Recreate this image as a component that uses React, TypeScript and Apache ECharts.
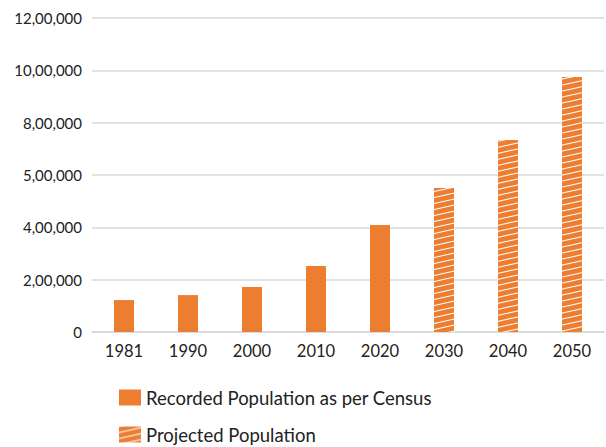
import React, { useEffect, useRef } from "react";
import * as echarts from "echarts";

const years = ["1981", "1990", "2000", "2010", "2020", "2030", "2040", "2050"];
const recorded = [122000, 141000, 172000, 252000, 409000, null, null, null];
const projected = [null, null, null, null, null, 550000, 734000, 975000];
const yTickLabels = ["0", "2,00,000", "4,00,000", "5,00,000", "8,00,000", "10,00,000", "12,00,000"];
const legendNames = ["Recorded Population as per Census", "Projected Population"];

const ORANGE = "#ED7D31";
const FONT = "Lato";

const TILE_W = 27;
const TILE_H = 6;
const tileSvg =
  `<svg xmlns="http://www.w3.org/2000/svg" width="${TILE_W}" height="${TILE_H}">` +
  `<rect width="${TILE_W}" height="${TILE_H}" fill="${ORANGE}"/>` +
  [-TILE_H, 0, TILE_H]
    .map(
      (y0) =>
        `<line x1="0" y1="${y0 + TILE_H}" x2="${TILE_W}" y2="${y0}" stroke="#ffffff" stroke-width="1.1"/>`
    )
    .join("") +
  `</svg>`;
const tileUrl = "data:image/svg+xml;charset=utf-8," + encodeURIComponent(tileSvg);

export default function App() {
  const ref = useRef<HTMLDivElement>(null);
  useEffect(() => {
    if (!ref.current) return;
    const chart = echarts.init(ref.current, undefined, { renderer: "svg" });
    const hatch = { image: tileUrl, repeat: "repeat", imageWidth: TILE_W, imageHeight: TILE_H };
    const legendBase = {
      orient: "horizontal",
      left: 119,
      padding: 0,
      itemWidth: 22,
      itemHeight: 16,
      icon: "rect",
      textStyle: { color: "#222", fontFamily: FONT, fontSize: 18.5 },
    };
    chart.setOption({
      animation: false,
      grid: { left: 92, right: 2, top: 18, bottom: 115, containLabel: false },
      xAxis: {
        type: "category",
        data: years,
        axisTick: { show: false },
        axisLine: { lineStyle: { color: "#d9d9d9", width: 1.5 } },
        axisLabel: { color: "#222", fontFamily: FONT, fontSize: 16.5, margin: 10 },
      },
      yAxis: {
        type: "value",
        min: 0,
        max: 1200000,
        interval: 200000,
        axisLine: { show: false },
        axisTick: { show: false },
        splitLine: { lineStyle: { color: "#d9d9d9", width: 1.5 } },
        axisLabel: {
          color: "#222",
          fontFamily: FONT,
          fontSize: 15,
          margin: 10,
          formatter: (v: number) => yTickLabels[Math.round(v / 200000)] ?? "",
        },
      },
      legend: [
        { ...legendBase, top: 388, data: [legendNames[0]] },
        { ...legendBase, top: 425, data: [legendNames[1]] },
      ],
      series: [
        {
          name: legendNames[0],
          type: "bar",
          data: recorded,
          barWidth: 20,
          barGap: "-100%",
          itemStyle: { color: ORANGE },
        },
        {
          name: legendNames[1],
          type: "bar",
          data: projected,
          barWidth: 20,
          itemStyle: { color: hatch },
        },
      ],
    });
    return () => chart.dispose();
  }, []);
  return (
    <div
      ref={ref}
      style={{ position: "fixed", left: 0, top: 0, width: 606, height: 447, background: "#fff" }}
    />
  );
}
